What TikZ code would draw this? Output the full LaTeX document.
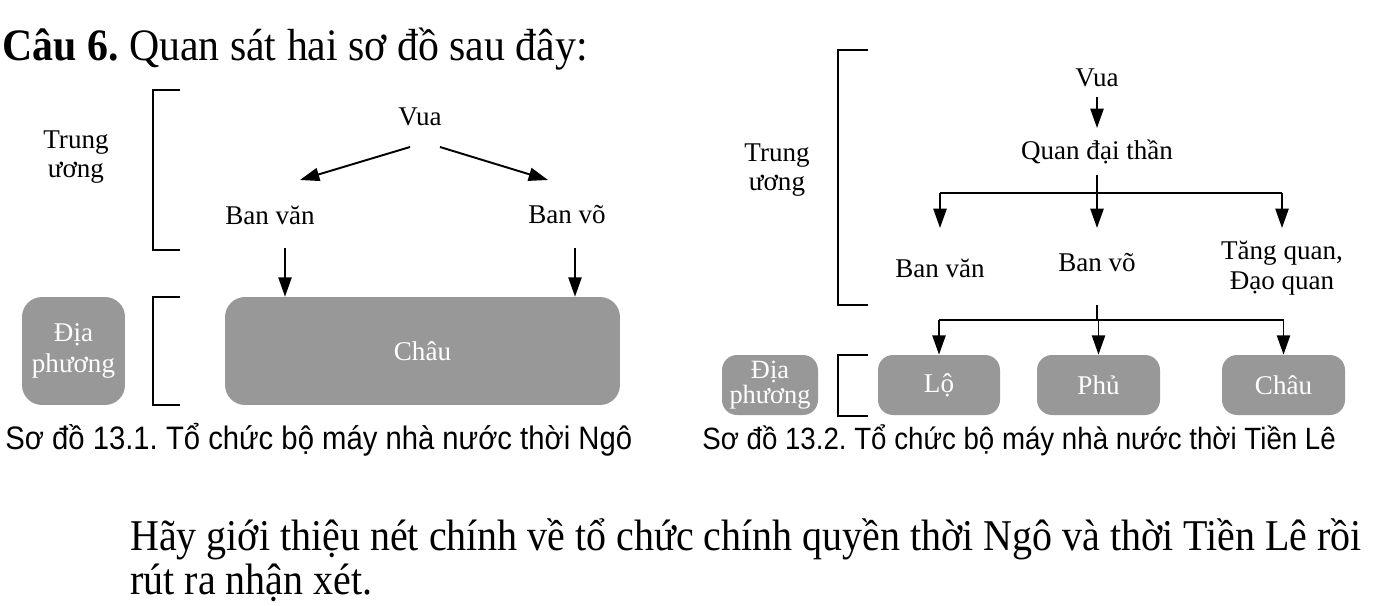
\documentclass[tikz,border=0pt]{standalone}
\usepackage{fontspec}
\setmainfont{Liberation Serif}
\setsansfont{Liberation Sans}[FakeStretch=0.9]
\newfontfamily\condserif{Liberation Serif}[FakeStretch=0.93]
\newfontfamily\condserifb{Liberation Serif}[FakeStretch=0.91]
\usetikzlibrary{arrows.meta,calc}
\definecolor{boxgray}{RGB}{152,152,152}
\newcommand{\dgfont}{\fontsize{15.4}{17}\selectfont}
\frenchspacing
\begin{document}
\begin{tikzpicture}[x=0.02cm,y=-0.02cm,
  txt/.style={font=\dgfont, inner sep=0pt, align=center},
  box/.style={rounded corners=0.4cm, fill=boxgray, text=white, font=\dgfont, align=center, inner sep=0pt},
  arr/.style={-{Triangle[length=11pt,width=7.5pt]}, line width=1.1pt},
  brk/.style={line width=1.1pt},
  captxt/.style={font=\sffamily\fontsize{18.5}{20}\selectfont, inner sep=0pt},
  bigtxt/.style={anchor=base west, inner sep=0pt, font=\condserifb\fontsize{25}{27}\selectfont}]
\useasboundingbox (0,0) rectangle (1382,605);
\node[bigtxt, font=\condserif\fontsize{25.6}{28}\selectfont] (title) at (2,60) {\textbf{Câu 6.} Quan sát hai sơ đồ sau đây:};
% so do 13.1
\node[txt] (tw1) at (76,157) {Trung\\ương};
\draw[brk] (180,90) -- (153,90) -- (153,250) -- (180,250);
\node[txt] (vua1) at (420,117) {Vua};
\node[txt] (banvan1) at (270,215) {Ban văn};
\node[txt] (banvo1) at (567,215) {Ban võ};
\node[box, minimum width=2.06cm, minimum height=2.16cm, font=\fontsize{15.4}{18}\selectfont] (dp1) at (73.5,351) {Địa\\phương};
\draw[brk] (180,297) -- (153,297) -- (153,405) -- (180,405);
\node[box, minimum width=7.9cm, minimum height=2.16cm] (chau1) at (422.5,351) {Châu};
\draw[arr] ($(vua1)+(-10,30)$) -- ($(banvan1)+(30,-35)$);
\draw[arr] ($(vua1)+(20,30)$) -- ($(banvo1)+(-19,-35)$);
\coordinate (bv1s) at ($(banvan1)+(15,33)$);
\coordinate (bo1s) at ($(banvo1)+(8,33)$);
\draw[arr] (bv1s) -- (bv1s |- chau1.north);
\draw[arr] (bo1s) -- (bo1s |- chau1.north);
\node[captxt, anchor=base west] (cap1) at (5,449) {Sơ đồ 13.1. Tổ chức bộ máy nhà nước thời Ngô};
% so do 13.2
\node[txt] (tw2) at (777,170) {Trung\\ương};
\draw[brk] (868,50) -- (838,50) -- (838,305) -- (868,305);
\node[txt] (vua2) at (1097,78) {Vua};
\node[txt] (qdt) at (1097,152) {Quan đại thần};
\node[txt] (banvan2) at (940,268) {Ban văn};
\node[txt] (banvo2) at (1097,263) {Ban võ};
\node[txt] (tang2) at (1282,268) {Tăng quan,\\Đạo quan};
\draw[arr] ($(vua2)+(0,19)$) -- ($(qdt)+(0,-24)$);
\coordinate (j1) at ($(qdt)+(0,41)$);
\draw[brk] ($(qdt)+(0,23)$) -- (j1);
\draw[brk] (j1 -| banvan2) -- (j1 -| tang2);
\draw[arr] (j1 -| banvan2) -- ($(banvan2)+(0,-40)$);
\draw[arr] (j1) -- ($(banvo2)+(0,-35)$);
\draw[arr] (j1 -| tang2) -- ($(tang2)+(0,-40)$);
\node[box, minimum width=1.92cm, minimum height=1.2cm, font=\fontsize{15}{14.5}\selectfont, rounded corners=0.3cm] (dp2) at (770,385) {Địa\\phương};
\draw[brk] (868,355) -- (838,355) -- (838,416) -- (868,416);
\node[box, minimum width=2.44cm, minimum height=1.2cm, rounded corners=0.3cm] (lo) at (939,385) {Lộ};
\node[box, minimum width=2.46cm, minimum height=1.2cm, rounded corners=0.3cm] (phu) at (1098.5,385) {Phủ};
\node[box, minimum width=2.46cm, minimum height=1.2cm, rounded corners=0.3cm] (chau2) at (1283.5,385) {Châu};
\coordinate (j2) at ($(banvo2)+(0,57)$);
\draw[brk] ($(banvo2)+(0,42)$) -- (j2);
\draw[brk] (j2 -| lo) -- (j2 -| chau2);
\draw[arr] (j2 -| lo) -- (lo.north);
\draw[arr] (j2 -| phu) -- (phu.north);
\draw[arr] (j2 -| chau2) -- (chau2.north);
\node[captxt, anchor=base west, font=\sffamily\fontsize{17.5}{19}\selectfont] (cap2) at (702,449) {Sơ đồ 13.2. Tổ chức bộ máy nhà nước thời Tiền Lê};
% cau hoi
\node[bigtxt] (q1) at (130,550) {Hãy giới thiệu nét chính về tổ chức chính quyền thời Ngô và thời Tiền Lê rồi};
\node[bigtxt] (q2) at (130,594) {rút ra nhận xét.};
\end{tikzpicture}
\end{document}
